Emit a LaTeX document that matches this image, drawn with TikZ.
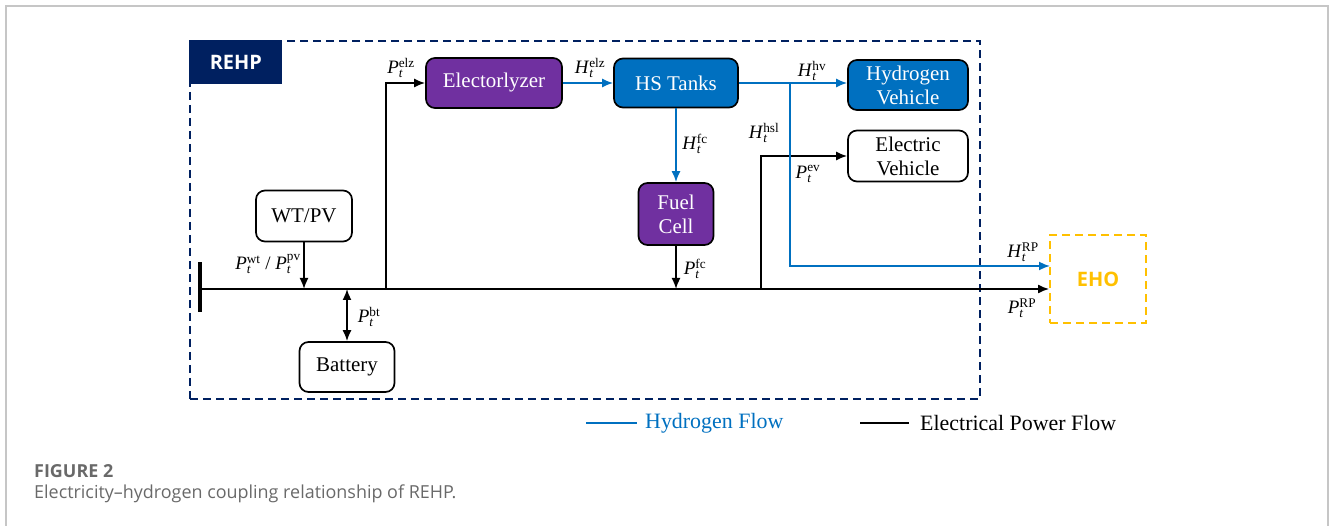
\documentclass[tikz,border=0pt]{standalone}
\usepackage{amsmath}
\usepackage{fontspec}
\setmainfont{Liberation Serif}
\newfontfamily\capfont{Open Sans}
\usepackage{tikz}
\usetikzlibrary{arrows.meta,positioning,calc}
\definecolor{rehpnavy}{RGB}{0,32,96}
\definecolor{elzpurple}{RGB}{112,48,160}
\definecolor{hflow}{RGB}{0,112,192}
\definecolor{ehoamber}{RGB}{255,192,0}
\definecolor{capgray}{RGB}{105,105,105}
\newcommand{\flw}[3]{\textit{#1}$_{\textit{#2}}^{\text{#3}}$}

\begin{document}
\begin{tikzpicture}[>={Latex[length=11bp,width=9bp]},line join=miter,
  unitbox/.style={draw,rounded corners=9bp,line width=1.7bp,align=center,inner sep=0pt,
    font=\rmfamily\fontsize{21}{24}\selectfont},
  purplebox/.style={unitbox,fill=elzpurple,text=white},
  bluebox/.style={unitbox,fill=hflow,text=white},
  elec/.style={line width=1.7bp},
  hyd/.style={line width=1.7bp,draw=hflow},
  lbl/.style={font=\rmfamily\fontsize{19}{20}\selectfont,inner sep=0pt}]
\useasboundingbox (0,0) rectangle (1330bp,526bp);
\draw [gray!45,line width=1.2bp] (6bp,0bp) -- (6bp,520bp) -- (1328bp,520bp) -- (1328bp,0bp);
%%
\node (rehp) at (585bp,306bp) [draw=rehpnavy,dash pattern=on 8bp off 5bp,line width=1.8bp,
  minimum width=790bp,minimum height=358bp] {};
\node (tag) at (rehp.north west) [anchor=north west,fill=rehpnavy,text=white,
  minimum width=93bp,minimum height=44bp,font=\capfont\bfseries\fontsize{20}{20}\selectfont] {REHP};
  \node (elz) at (494bp,443bp) [purplebox,minimum width=136bp,minimum height=50bp] {Electorlyzer};
  \node (hs) at (676bp,443bp) [bluebox,minimum width=124bp,minimum height=49bp] {HS Tanks};
  \node (hv) at (908bp,441bp) [bluebox,minimum width=120bp,minimum height=50bp] {Hydrogen\\Vehicle};
  \node (ev) at (908bp,370bp) [unitbox,minimum width=120bp,minimum height=51bp] {Electric\\Vehicle};
  \node (fc) at (676bp,312bp) [purplebox,minimum width=75bp,minimum height=62bp] {Fuel\\Cell};
  \node (wt) at (304bp,310bp) [unitbox,minimum width=96bp,minimum height=51bp] {WT/PV};
  \node (bat) at (347bp,159bp) [unitbox,minimum width=95bp,minimum height=50bp] {Battery};
  \node (eho) at (1098bp,247bp) [draw=ehoamber,dash pattern=on 8bp off 5bp,line width=1.8bp,
    minimum width=96bp,minimum height=88bp,text=ehoamber,
    font=\capfont\bfseries\fontsize{20}{20}\selectfont] {EHO};
%% bus and electrical power flow
\coordinate (busL) at (200bp,237bp);
\coordinate (elzTap) at (386bp,237bp);
\coordinate (evTap) at (761bp,237bp);
\draw [line width=4bp] ($(busL)+(0,-23bp)$) -- ($(busL)+(0,27bp)$);
  \draw [elec,->] (busL) -- (busL -| eho.west);
  \draw [elec,->] (elzTap) |- (elz.west);
  \draw [elec,->] (evTap) |- (ev.west);
  \draw [elec,->] (wt.south) -- (wt.south |- busL);
  \draw [elec,<->] (bat.north) -- (bat.north |- busL);
  \draw [elec,->] (fc.south) -- (fc.south |- busL);
%% hydrogen flow
\coordinate (hBr) at (790bp,443bp);
\coordinate (hRP) at (1050bp,260bp);
  \draw [hyd,->] (elz.east) -- (hs.west);
  \draw [hyd,->] (hs.east) -- (hs.east -| hv.west);
  \draw [hyd,->] (hs.south) -- (fc.north);
  \draw [hyd,->] (hBr) |- (hRP);
%% flow labels
\node (lPelz) at (401bp,458bp) [lbl] {\flw{P}{t}{elz}};
\node (lHelz) at (590bp,458bp) [lbl] {\flw{H}{t}{elz}};
\node (lHhv) at (812bp,455bp) [lbl] {\flw{H}{t}{hv}};
\node (lHfc) at (695bp,382bp) [lbl] {\flw{H}{t}{fc}};
\node (lHhsl) at (764bp,393bp) [lbl] {\flw{H}{t}{hsl}};
\node (lPev) at (808bp,352bp) [lbl] {\flw{P}{t}{ev}};
\node (lPwt) at (268bp,262bp) [lbl] {\flw{P}{t}{wt} / \flw{P}{t}{pv}};
\node (lPbt) at (369bp,209bp) [lbl] {\flw{P}{t}{bt}};
\node (lPfc) at (695bp,257bp) [lbl] {\flw{P}{t}{fc}};
\node (lHrp) at (1023bp,274bp) [lbl] {\flw{H}{t}{RP}};
\node (lPrp) at (1022bp,218bp) [lbl] {\flw{P}{t}{RP}};
%% legend
\node (hleg) at (645bp,103bp) [anchor=west,inner sep=0pt,text=hflow,font=\rmfamily\fontsize{22}{22}\selectfont] {Hydrogen Flow};
\node (eleg) at (920bp,103bp) [anchor=west,inner sep=0pt,font=\rmfamily\fontsize{22}{22}\selectfont] {Electrical Power Flow};
  \draw [hyd,line width=2.2bp] ($(hleg.west)+(-59bp,0)$) -- ($(hleg.west)+(-8bp,0)$);
  \draw [line width=2.4bp] ($(eleg.west)+(-60bp,0)$) -- ($(eleg.west)+(-11bp,0)$);
%% caption
\node (fig) at (34bp,48bp) [anchor=base west,inner sep=0pt,text=capgray,
  font=\capfont\bfseries\fontsize{18}{18}\selectfont] {FIGURE 2};
\node (cap) at (34bp,28bp) [anchor=base west,inner sep=0pt,text=capgray,
  font=\capfont\fontsize{18}{18}\selectfont] {Electricity–hydrogen coupling relationship of REHP.};
%
\end{tikzpicture}
\end{document}
